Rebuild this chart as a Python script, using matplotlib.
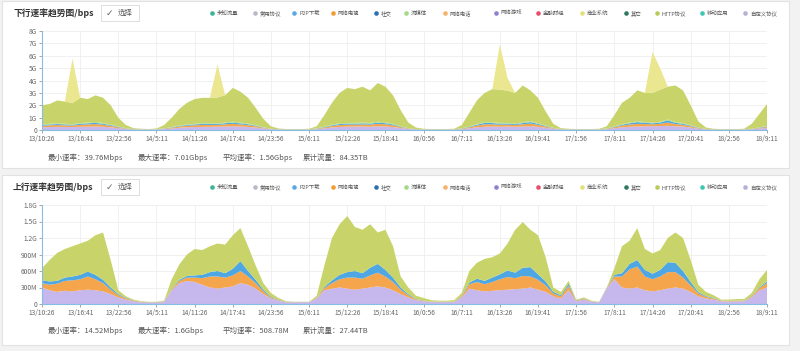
import numpy as np
import matplotlib
matplotlib.use('Agg')
import matplotlib.pyplot as plt
from matplotlib.patches import Rectangle

plt.rcParams['font.family'] = ['Noto Sans CJK SC', 'DejaVu Sans']

# time axis: one sample every 1.25 h starting 13/10:26
hours = np.arange(96) * 1.25
tick_hours = np.arange(20) * 6.25
tick_labels = ['13/10:26', '13/16:41', '13/22:56', '14/5:11', '14/11:26', '14/17:41',
               '14/23:56', '15/6:11', '15/12:26', '15/18:41', '16/0:56', '16/7:11',
               '16/13:26', '16/19:41', '17/1:56', '17/8:11', '17/14:26', '17/20:41',
               '18/2:56', '18/9:11']

legend_names = ['未知流量', '常用协议', 'P2P下载', '网络电视', '社交', '流媒体', '网络电话',
                '网络游戏', '金融财经', '商业系统', '其它', 'HTTP协议', '移动应用', '自定义协议']
legend_colors = ['#3bb39a', '#b9b9c9', '#5aa9e6', '#f39b2f', '#2c6fb5', '#a5d98a', '#f7b06a',
                 '#8b7fd6', '#e84d6b', '#e3e07a', '#2f7a5c', '#b8cc5a', '#3cc6b4', '#b5b1d6']

# ---- downstream (Gbps) ----
dn_custom = [0.22, 0.24, 0.25, 0.25, 0.24, 0.26, 0.27, 0.28, 0.26, 0.22,
             0.15, 0.08, 0.04, 0.03, 0.03, 0.04, 0.07, 0.12, 0.18, 0.22,
             0.24, 0.25, 0.26, 0.27, 0.28, 0.30, 0.28, 0.25, 0.20, 0.12,
             0.06, 0.04, 0.03, 0.03, 0.03, 0.03, 0.06, 0.13, 0.20, 0.25,
             0.27, 0.28, 0.28, 0.27, 0.30, 0.28, 0.24, 0.16, 0.08, 0.04,
             0.03, 0.03, 0.03, 0.03, 0.03, 0.06, 0.14, 0.22, 0.26, 0.28,
             0.27, 0.28, 0.26, 0.28, 0.30, 0.26, 0.18, 0.09, 0.04, 0.03,
             0.03, 0.03, 0.03, 0.03, 0.06, 0.14, 0.22, 0.26, 0.28, 0.30,
             0.30, 0.32, 0.34, 0.30, 0.28, 0.20, 0.10, 0.05, 0.03, 0.03,
             0.03, 0.03, 0.03, 0.06, 0.12, 0.18]
dn_iptv = [0.12, 0.14, 0.15, 0.13, 0.12, 0.16, 0.18, 0.20, 0.16, 0.12,
           0.07, 0.03, 0.01, 0.01, 0.01, 0.01, 0.03, 0.06, 0.10, 0.12,
           0.14, 0.16, 0.15, 0.14, 0.18, 0.20, 0.17, 0.14, 0.10, 0.05,
           0.02, 0.01, 0.01, 0.01, 0.01, 0.01, 0.03, 0.07, 0.12, 0.15,
           0.16, 0.15, 0.17, 0.16, 0.20, 0.18, 0.14, 0.08, 0.03, 0.01,
           0.01, 0.01, 0.01, 0.01, 0.01, 0.03, 0.08, 0.14, 0.20, 0.18,
           0.16, 0.15, 0.14, 0.18, 0.22, 0.16, 0.10, 0.04, 0.01, 0.01,
           0.01, 0.01, 0.01, 0.01, 0.03, 0.08, 0.14, 0.18, 0.22, 0.18,
           0.16, 0.18, 0.26, 0.18, 0.14, 0.10, 0.05, 0.02, 0.01, 0.01,
           0.01, 0.01, 0.01, 0.02, 0.05, 0.08]
dn_p2p = [0.06, 0.07, 0.08, 0.07, 0.06, 0.08, 0.09, 0.10, 0.08, 0.06,
          0.04, 0.02, 0.01, 0.01, 0.01, 0.01, 0.02, 0.03, 0.05, 0.06,
          0.07, 0.08, 0.08, 0.07, 0.09, 0.10, 0.09, 0.07, 0.05, 0.03,
          0.01, 0.01, 0.01, 0.01, 0.01, 0.01, 0.02, 0.04, 0.06, 0.08,
          0.08, 0.08, 0.09, 0.08, 0.10, 0.09, 0.07, 0.04, 0.02, 0.01,
          0.01, 0.01, 0.01, 0.01, 0.01, 0.02, 0.04, 0.07, 0.12, 0.10,
          0.08, 0.08, 0.07, 0.10, 0.12, 0.08, 0.05, 0.02, 0.01, 0.01,
          0.01, 0.01, 0.01, 0.01, 0.02, 0.04, 0.07, 0.10, 0.14, 0.10,
          0.08, 0.10, 0.18, 0.10, 0.08, 0.05, 0.03, 0.01, 0.01, 0.01,
          0.01, 0.01, 0.01, 0.01, 0.03, 0.04]
dn_stream = [0.05, 0.05, 0.06, 0.05, 0.05, 0.06, 0.06, 0.07, 0.06, 0.05,
             0.03, 0.02, 0.01, 0.01, 0.01, 0.01, 0.02, 0.03, 0.04, 0.05,
             0.05, 0.06, 0.06, 0.05, 0.06, 0.07, 0.06, 0.05, 0.04, 0.02,
             0.01, 0.01, 0.01, 0.01, 0.01, 0.01, 0.02, 0.03, 0.05, 0.06,
             0.06, 0.06, 0.06, 0.06, 0.07, 0.06, 0.05, 0.03, 0.02, 0.01,
             0.01, 0.01, 0.01, 0.01, 0.01, 0.02, 0.03, 0.05, 0.06, 0.06,
             0.06, 0.06, 0.05, 0.06, 0.07, 0.06, 0.04, 0.02, 0.01, 0.01,
             0.01, 0.01, 0.01, 0.01, 0.02, 0.03, 0.05, 0.06, 0.07, 0.06,
             0.06, 0.06, 0.08, 0.06, 0.06, 0.04, 0.02, 0.01, 0.01, 0.01,
             0.01, 0.01, 0.01, 0.01, 0.02, 0.03]
dn_http = [1.55, 1.60, 1.85, 1.80, 1.70, 2.05, 1.90, 2.15, 2.05, 1.55,
           0.70, 0.25, 0.08, 0.04, 0.02, 0.05, 0.26, 0.76, 1.33, 1.75,
           2.00, 2.05, 2.05, 2.10, 2.20, 2.73, 2.50, 2.10, 1.40, 0.68,
           0.20, 0.05, 0.02, 0.02, 0.02, 0.04, 0.17, 0.93, 1.77, 2.46,
           2.83, 2.73, 2.90, 2.63, 3.13, 2.89, 2.30, 1.29, 0.45, 0.13,
           0.04, 0.02, 0.02, 0.02, 0.04, 0.27, 1.11, 1.92, 2.36, 2.68,
           2.70, 2.60, 2.48, 2.98, 2.49, 2.04, 1.13, 0.33, 0.08, 0.04,
           0.02, 0.02, 0.02, 0.04, 0.17, 0.91, 1.72, 2.00, 2.49, 2.36,
           2.40, 2.60, 2.64, 2.96, 2.64, 1.61, 0.50, 0.11, 0.04, 0.02,
           0.02, 0.02, 0.04, 0.40, 1.08, 1.77]
dn_biz = [0, 0, 0, 0, 3.60, 0, 0, 0, 0, 0,
          0, 0, 0, 0, 0, 0, 0, 0, 0, 0,
          0, 0, 0, 2.67, 0, 0, 0, 0, 0, 0,
          0, 0, 0, 0, 0, 0, 0, 0, 0, 0,
          0, 0, 0, 0, 0, 0, 0, 0, 0, 0,
          0, 0, 0, 0, 0, 0, 0, 0, 0, 0,
          3.63, 1.03, 0, 0, 0, 0, 0, 0, 0, 0,
          0, 0, 0, 0, 0, 0, 0, 0, 0, 0,
          3.30, 1.74, 0, 0, 0, 0, 0, 0, 0, 0,
          0, 0, 0, 0, 0, 0]

# ---- upstream (Mbps) ----
up_custom = [300, 250, 220, 240, 230, 250, 260, 250, 230, 180,
             120, 80, 50, 30, 25, 25, 35, 250, 380, 420,
             400, 350, 300, 280, 300, 320, 380, 350, 280, 180,
             100, 60, 30, 30, 30, 30, 100, 250, 280, 300,
             280, 260, 280, 300, 320, 300, 250, 180, 120, 70,
             50, 35, 35, 35, 35, 120, 280, 250, 230, 240,
             250, 260, 270, 280, 300, 260, 220, 140, 100, 250,
             50, 80, 40, 30, 280, 450, 300, 280, 300, 250,
             230, 250, 280, 300, 280, 220, 140, 100, 80, 50,
             45, 50, 50, 120, 250, 300]
up_iptv = [80, 100, 150, 180, 200, 200, 240, 200, 150, 80,
           40, 20, 10, 5, 5, 5, 8, 20, 40, 60,
           80, 120, 200, 220, 180, 200, 220, 150, 100, 50,
           20, 10, 5, 5, 5, 5, 10, 40, 100, 150,
           200, 220, 180, 220, 250, 200, 150, 80, 40, 15,
           8, 5, 5, 5, 5, 20, 80, 150, 130, 160,
           200, 230, 200, 230, 200, 180, 120, 50, 40, 80,
           10, 15, 5, 3, 10, 50, 200, 350, 380, 250,
           220, 250, 300, 280, 200, 120, 50, 30, 20, 8,
           8, 8, 8, 20, 40, 80]
up_p2p = [50, 60, 50, 60, 70, 80, 90, 80, 60, 40,
          20, 10, 5, 3, 3, 3, 5, 10, 20, 30,
          40, 60, 80, 100, 80, 120, 180, 100, 60, 30,
          15, 8, 3, 3, 3, 3, 5, 20, 50, 80,
          100, 120, 100, 140, 160, 120, 80, 40, 20, 8,
          5, 3, 3, 3, 3, 10, 30, 60, 60, 80,
          90, 120, 100, 150, 170, 100, 70, 30, 20, 40,
          5, 8, 3, 2, 5, 30, 60, 100, 120, 120,
          100, 120, 180, 170, 120, 60, 25, 15, 10, 4,
          4, 4, 4, 8, 15, 30]
up_http = [220, 390, 510, 520, 550, 570, 560, 720, 860, 500,
           70, 30, 15, 12, 7, 7, 12, 170, 280, 390,
           480, 450, 470, 500, 520, 610, 600, 450, 260, 120,
           65, 32, 12, 2, 2, 2, 35, 390, 770, 920,
           1020, 800, 790, 790, 570, 730, 570, 200, 120, 57,
           47, 27, 17, 17, 27, 50, 210, 290, 400, 370,
           380, 490, 780, 830, 680, 710, 440, 80, 60, 50,
           15, 17, 12, 5, 5, 120, 490, 420, 580, 380,
           370, 360, 440, 550, 600, 400, 135, 75, 50, 18,
           23, 28, 28, 52, 145, 210]

# stats under each chart
dn_stats = ['最小速率：39.76Mbps', '最大速率：7.01Gbps', '平均速率：1.56Gbps', '累计流量：84.35TB']
up_stats = ['最小速率：14.52Mbps', '最大速率：1.6Gbps', '平均速率：508.78M', '累计流量：27.44TB']

W, H = 800, 351
fig = plt.figure(figsize=(W / 100, H / 100), dpi=100)
fig.patch.set_facecolor('#f2f2f2')

# background layer in pixel coordinates
bg = fig.add_axes([0, 0, 1, 1], zorder=-5)
bg.set_xlim(0, W)
bg.set_ylim(H, 0)
bg.axis('off')

for top, bottom, sy, title, stats in [(1, 168, 158, '下行速率趋势图/bps', dn_stats),
                                       (175, 345, 331, '上行速率趋势图/bps', up_stats)]:
    bg.add_patch(Rectangle((2, top), 787, bottom - top, facecolor='white',
                           edgecolor='#e2e2e2', lw=0.8))
    ty = top + 12
    bg.text(13, ty, title, fontsize=6.3, fontweight='bold', color='#333333', va='center')
    bg.add_patch(Rectangle((101, top + 4), 38, 16, facecolor='white',
                           edgecolor='#dddddd', lw=0.7))
    bg.text(106, ty, '✓', fontsize=6.5, color='#666666', va='center',
            family=['DejaVu Sans'])
    bg.text(118, ty, '选择', fontsize=5.3, color='#555555', va='center')
    for lx, name, col in zip([212, 255, 294, 333, 376, 406, 445, 496, 538, 582, 626, 657, 702, 745],
                             legend_names, legend_colors):
        bg.plot(lx, ty, 'o', ms=3.3, color=col, mec='none')
        bg.text(lx + 5, ty, name, fontsize=3.9, color='#555555', va='center')
    for sx, s in zip([48, 138, 223, 303], stats):
        bg.text(sx, sy, s, fontsize=5.4, color='#555555', va='center')

fill_colors = ['#c6b7ec', '#f5a54c', '#4ea7e2', '#a8dc8c', '#c8d46a', '#ebe690']


def style_axis(ax, yticks, ylabels, ymax):
    ax.set_xlim(0, hours[-1])
    ax.set_ylim(0, ymax)
    ax.set_xticks(tick_hours)
    ax.set_xticklabels(tick_labels)
    ax.set_yticks(yticks)
    ax.set_yticklabels(ylabels)
    ax.tick_params(axis='both', labelsize=4.8, colors='#999999', labelcolor='#666666',
                   length=2, width=0.6, pad=1.5)
    ax.grid(True, color='#eeeeee', lw=0.6)
    ax.set_axisbelow(True)
    for side in ['top', 'right']:
        ax.spines[side].set_visible(False)
    for side in ['left', 'bottom']:
        ax.spines[side].set_color('#86bde3')
        ax.spines[side].set_linewidth(0.8)
    ax.set_facecolor('none')


ax1 = fig.add_axes([42 / W, 1 - 130 / H, 725 / W, 99 / H])
ax1.stackplot(hours, dn_custom, dn_iptv, dn_p2p, dn_stream, dn_http, dn_biz,
              colors=fill_colors, lw=0)
style_axis(ax1, np.arange(9), ['0'] + ['%dG' % g for g in range(1, 9)], 8)

ax2 = fig.add_axes([42 / W, 1 - 304 / H, 725 / W, 99 / H])
ax2.stackplot(hours, up_custom, up_iptv, up_p2p, up_http,
              colors=[fill_colors[0], fill_colors[1], fill_colors[2], fill_colors[4]], lw=0)
style_axis(ax2, np.arange(0, 1801, 300), ['0', '300M', '600M', '900M', '1.2G', '1.5G', '1.8G'], 1800)

fig.savefig('out.png', dpi=100, facecolor=fig.get_facecolor())
